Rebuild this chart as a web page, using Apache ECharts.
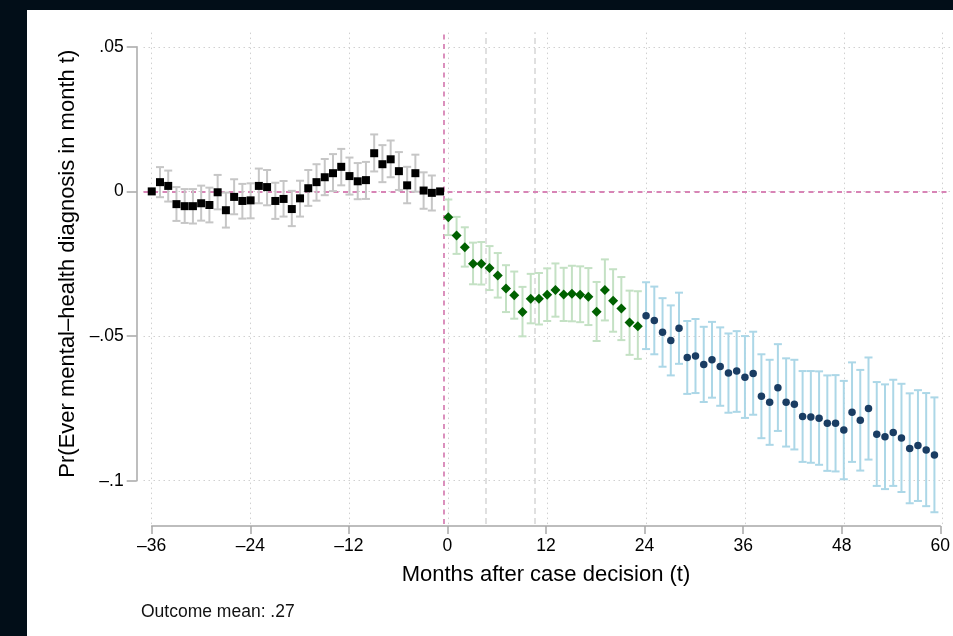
<!DOCTYPE html>
<html><head><meta charset="utf-8">
<script src="https://cdn.jsdelivr.net/npm/echarts@6/dist/echarts.min.js"></script>
<style>
html,body{margin:0;padding:0;background:#020e18;width:953px;height:636px;overflow:hidden;}
#panel{position:absolute;left:27px;top:10px;width:926px;height:626px;background:#fff;}
#chart{position:absolute;left:0;top:0;width:953px;height:636px;}
</style></head><body>
<div id="panel"></div><div id="chart"></div>
<script>
// ---- data ----
const preMonths = [-36,-35,-34,-33,-32,-31,-30,-29,-28,-27,-26,-25,-24,-23,-22,-21,-20,-19,-18,-17,-16,-15,-14,-13,-12,-11,-10,-9,-8,-7,-6,-5,-4,-3,-2,-1];
const preEst = [0,0.0032,0.0019,-0.0044,-0.0051,-0.0051,-0.0041,-0.0047,-0.0003,-0.0065,-0.0019,-0.0033,-0.0031,0.0019,0.0015,-0.0033,-0.0026,-0.0061,-0.0024,0.0011,0.0032,0.0049,0.0063,0.0085,0.0053,0.0035,0.0039,0.0132,0.0094,0.0111,0.0070,0.0021,0.0063,0.0003,-0.0005,0];
const preLo = [null,-0.0020,-0.0035,-0.0102,-0.0109,-0.0111,-0.0101,-0.0107,-0.0062,-0.0125,-0.0079,-0.0094,-0.0093,-0.0041,-0.0048,-0.0095,-0.0087,-0.0120,-0.0087,-0.0050,-0.0032,-0.0013,0.0001,0.0021,-0.0011,-0.0027,-0.0026,0.0069,0.0032,0.0049,0.0005,-0.0041,-0.0001,-0.0060,-0.0066,null];
const preHi = [null,0.0084,0.0072,0.0015,0.0008,0.0008,0.0020,0.0013,0.0057,-0.0004,0.0042,0.0026,0.0028,0.0079,0.0074,0.0030,0.0036,0.0002,0.0037,0.0074,0.0094,0.0112,0.0129,0.0147,0.0117,0.0098,0.0102,0.0197,0.0160,0.0176,0.0136,0.0085,0.0127,0.0066,0.0055,null];

const earlyMonths = [0,1,2,3,4,5,6,7,8,9,10,11,12,13,14,15,16,17,18,19,20,21,22,23];
const earlyEst = [-0.0089,-0.0152,-0.0193,-0.0250,-0.0250,-0.0265,-0.0291,-0.0336,-0.0359,-0.0417,-0.0371,-0.0371,-0.0357,-0.0341,-0.0356,-0.0354,-0.0357,-0.0364,-0.0416,-0.0341,-0.0378,-0.0405,-0.0453,-0.0466];
const earlyLo = [-0.0151,-0.0216,-0.0260,-0.0321,-0.0322,-0.0341,-0.0367,-0.0417,-0.0440,-0.0501,-0.0456,-0.0460,-0.0448,-0.0433,-0.0448,-0.0449,-0.0452,-0.0462,-0.0517,-0.0446,-0.0485,-0.0514,-0.0565,-0.0579];
const earlyHi = [-0.0028,-0.0088,-0.0124,-0.0177,-0.0175,-0.0189,-0.0213,-0.0255,-0.0277,-0.0330,-0.0285,-0.0282,-0.0266,-0.0249,-0.0264,-0.0257,-0.0259,-0.0265,-0.0313,-0.0235,-0.0269,-0.0296,-0.0343,-0.0345];

const lateMonths = [24,25,26,27,28,29,30,31,32,33,34,35,36,37,38,39,40,41,42,43,44,45,46,47,48,49,50,51,52,53,54,55,56,57,58,59];
const lateEst = [-0.0430,-0.0446,-0.0487,-0.0515,-0.0473,-0.0574,-0.0569,-0.0598,-0.0582,-0.0605,-0.0628,-0.0621,-0.0642,-0.0629,-0.0708,-0.0729,-0.0679,-0.0729,-0.0736,-0.0778,-0.0780,-0.0784,-0.0801,-0.0801,-0.0825,-0.0763,-0.0791,-0.0750,-0.0839,-0.0848,-0.0833,-0.0852,-0.0889,-0.0878,-0.0894,-0.0911];
const lateLo = [-0.0545,-0.0563,-0.0606,-0.0636,-0.0596,-0.0700,-0.0697,-0.0728,-0.0713,-0.0741,-0.0765,-0.0762,-0.0783,-0.0772,-0.0853,-0.0876,-0.0828,-0.0882,-0.0892,-0.0935,-0.0938,-0.0945,-0.0966,-0.0968,-0.0995,-0.0935,-0.0965,-0.0927,-0.1018,-0.1029,-0.1018,-0.1039,-0.1078,-0.1070,-0.1088,-0.1109];
const lateHi = [-0.0314,-0.0329,-0.0369,-0.0394,-0.0350,-0.0448,-0.0441,-0.0468,-0.0451,-0.0470,-0.0491,-0.0483,-0.0500,-0.0485,-0.0563,-0.0582,-0.0528,-0.0577,-0.0582,-0.0621,-0.0621,-0.0622,-0.0636,-0.0635,-0.0655,-0.0591,-0.0617,-0.0574,-0.0659,-0.0667,-0.0651,-0.0665,-0.0698,-0.0687,-0.0697,-0.0712];

const xTicks = [-36,-24,-12,0,12,24,36,48,60];
const xTickLabels = ['\u201336','\u201324','\u201312','0','12','24','36','48','60'];
const yTicks = [-0.1,-0.05,0,0.05];
const yTickLabels = ['\u2013.1','\u2013.05','0','.05'];
const eventLine = -0.5;        // case decision
const windowLines = [4.5, 10.5];
const zeroLine = 0;
const xTitle = 'Months after case decision (t)';
const yTitle = 'Pr(Ever mental\u2013health diagnosis in month t)';
const note = 'Outcome mean: .27';

// ---- chart ----
const FONT = '"Liberation Sans", Arial, Helvetica, sans-serif';
function pts(ms, est){ return ms.map((m,i)=>[m, est[i]]); }
function bars(ms, lo, hi){
  const out = [];
  ms.forEach((m,i)=>{ if(lo[i]!==null && hi[i]!==null) out.push([m, lo[i], hi[i]]); });
  return out;
}
function errRender(color){
  return function(params, api){
    const x = api.value(0), lo = api.value(1), hi = api.value(2);
    const a = api.coord([x, lo]), b = api.coord([x, hi]);
    const hw = 4;
    const st = {stroke: color, lineWidth: 2, fill: null};
    return {type:'group', children:[
      {type:'line', shape:{x1:a[0],y1:a[1],x2:b[0],y2:b[1]}, style:st},
      {type:'line', shape:{x1:a[0]-hw,y1:a[1],x2:a[0]+hw,y2:a[1]}, style:st},
      {type:'line', shape:{x1:b[0]-hw,y1:b[1],x2:b[0]+hw,y2:b[1]}, style:st}
    ]};
  };
}
function labelFor(ticks, labels){
  return function(v){
    for(let i=0;i<ticks.length;i++){ if(Math.abs(v-ticks[i])<1e-9) return labels[i]; }
    return '';
  };
}

const chart = echarts.init(document.getElementById('chart'), null, {renderer:'canvas'});
const gridMarks = xTicks.map(v=>({xAxis:v})).concat(yTicks.map(v=>({yAxis:v})));

chart.setOption({
  backgroundColor: 'transparent',
  animation: false,
  textStyle: {fontFamily: FONT},
  title: {text: note, left: 141, top: 603, padding: 0,
    textStyle: {fontFamily: FONT, fontSize: 17.5, fontWeight: 'normal', color: '#111'}},
  grid: [
    {left: 143.5, top: 32.3, width: 807.4, height: 491.8},
    {left: 151.7, top: 46.7, width: 791, height: 434}
  ],
  xAxis: [
    {gridIndex: 0, type: 'value', min: -37, max: 61, show: false},
    {gridIndex: 1, type: 'value', min: -36, max: 60, interval: 12, offset: 45.3, position: 'bottom',
      axisLine: {show: true, onZero: false, lineStyle: {color: '#a8a8a8', width: 1.5}},
      axisTick: {show: true, length: 8, lineStyle: {color: '#a8a8a8', width: 1.5}},
      axisLabel: {fontSize: 17.5, color: '#000', margin: 11, fontFamily: FONT,
        formatter: labelFor(xTicks, xTickLabels)},
      splitLine: {show: false},
      name: xTitle, nameLocation: 'middle', nameGap: 38,
      nameTextStyle: {fontSize: 22, color: '#000', fontFamily: FONT}}
  ],
  yAxis: [
    {gridIndex: 0, type: 'value', min: -0.115, max: 0.055, show: false},
    {gridIndex: 1, type: 'value', min: -0.1, max: 0.05, interval: 0.05, offset: 15, position: 'left',
      axisLine: {show: true, onZero: false, lineStyle: {color: '#a8a8a8', width: 1.5}},
      axisTick: {show: true, length: 10, lineStyle: {color: '#a8a8a8', width: 1.5}},
      axisLabel: {fontSize: 17.5, color: '#000', margin: 13, fontFamily: FONT,
        formatter: labelFor(yTicks, yTickLabels)},
      splitLine: {show: false},
      name: yTitle, nameLocation: 'middle', nameGap: 58,
      nameTextStyle: {fontSize: 22, color: '#000', fontFamily: FONT}}
  ],
  series: [
    {type: 'line', xAxisIndex: 0, yAxisIndex: 0, data: [[-36, 0]], symbol: 'none', showSymbol: false,
      lineStyle: {opacity: 0}, silent: true, z: 1,
      markLine: {z: 1, silent: true, symbol: ['none','none'], label: {show: false}, animation: false,
        lineStyle: {color: '#d0d0d0', type: [1.5, 3.5], width: 1}, data: gridMarks}},
    {type: 'line', xAxisIndex: 0, yAxisIndex: 0, data: [[-36, 0]], symbol: 'none', showSymbol: false,
      lineStyle: {opacity: 0}, silent: true, z: 2,
      markLine: {z: 2, silent: true, symbol: ['none','none'], label: {show: false}, animation: false,
        data: [
          ...windowLines.map(v=>({xAxis: v, lineStyle: {color: '#d6d6d6', type: [6, 4], width: 1.5}})),
          {xAxis: eventLine, lineStyle: {color: '#d884b6', type: [5, 4.5], width: 1.8}},
          {yAxis: zeroLine, lineStyle: {color: '#d884b6', type: [5, 4.5], width: 1.8}}
        ]}},
    {type: 'custom', xAxisIndex: 0, yAxisIndex: 0, z: 3, renderItem: errRender('#c6c6c6'),
      encode: {x: 0, y: [1, 2]}, data: bars(preMonths, preLo, preHi)},
    {type: 'custom', xAxisIndex: 0, yAxisIndex: 0, z: 3, renderItem: errRender('#c4e1c4'),
      encode: {x: 0, y: [1, 2]}, data: bars(earlyMonths, earlyLo, earlyHi)},
    {type: 'custom', xAxisIndex: 0, yAxisIndex: 0, z: 3, renderItem: errRender('#acd7e7'),
      encode: {x: 0, y: [1, 2]}, data: bars(lateMonths, lateLo, lateHi)},
    {type: 'scatter', xAxisIndex: 0, yAxisIndex: 0, z: 4, symbol: 'rect', symbolSize: 8,
      itemStyle: {color: '#000', opacity: 1}, data: pts(preMonths, preEst)},
    {type: 'scatter', xAxisIndex: 0, yAxisIndex: 0, z: 4, symbol: 'diamond', symbolSize: 10,
      itemStyle: {color: '#006100', opacity: 1}, data: pts(earlyMonths, earlyEst)},
    {type: 'scatter', xAxisIndex: 0, yAxisIndex: 0, z: 4, symbol: 'circle', symbolSize: 7.5,
      itemStyle: {color: '#1a3d63', opacity: 1}, data: pts(lateMonths, lateEst)},
    {type: 'scatter', xAxisIndex: 1, yAxisIndex: 1, data: [], silent: true}
  ]
});
</script>
</body></html>
